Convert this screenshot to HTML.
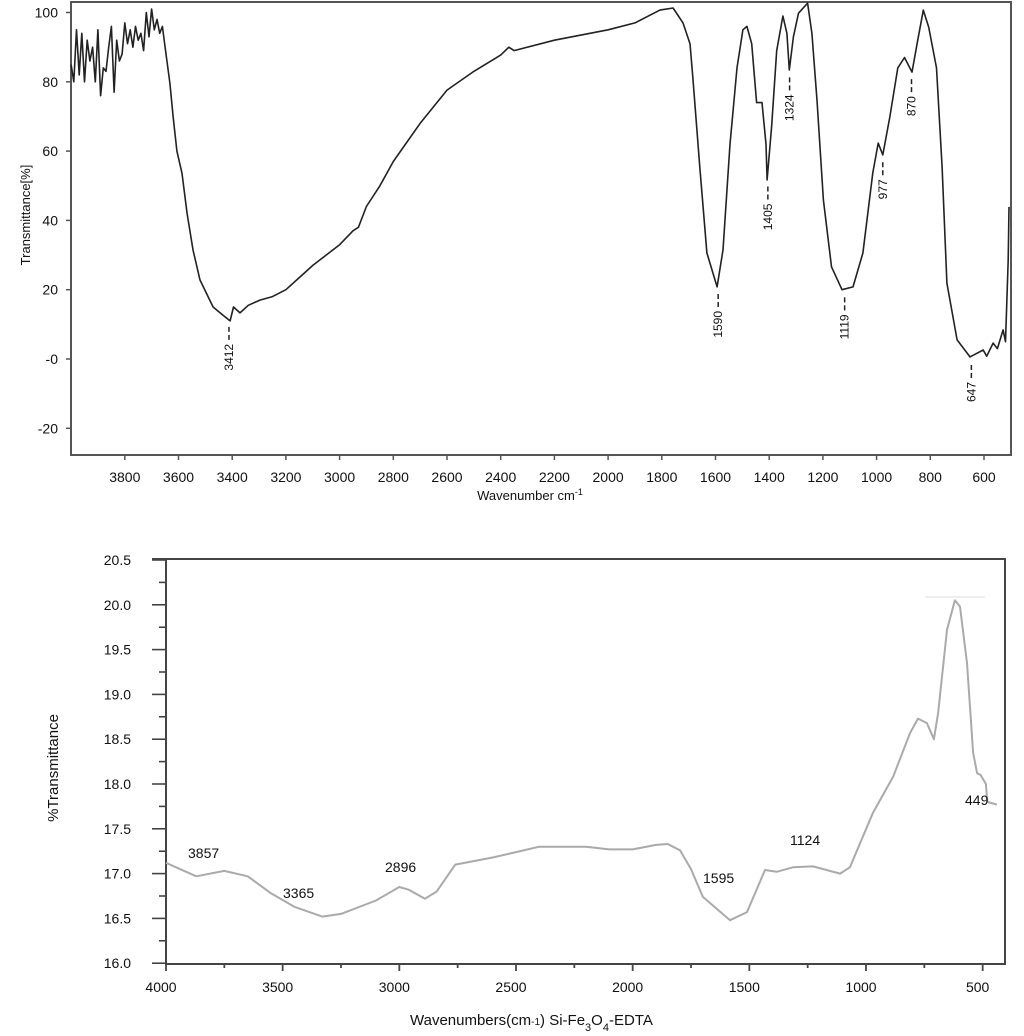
<!DOCTYPE html>
<html><head><meta charset="utf-8"><style>
html,body{margin:0;padding:0;background:#fff;}
svg{display:block;font-family:"Liberation Sans",Arial,sans-serif;}
</style></head><body>
<svg id="c" width="1024" height="1036" viewBox="0 0 1024 1036">
</svg>
<script>
// ---- Top chart data ----
const topNoiseW = [4000,3990,3980,3970,3960,3950,3940,3930,3920,3910,3900,3890,3880,3870,3860,3850,3840,3830,3820,3810,3800,3790,3780,3770,3760,3750,3740,3730,3720,3710,3700,3690,3680,3670,3660,3650];
const topNoiseT = [85,80,95,82,94,80,92,86,90,80,95,76,84,83,90,96,77,92,86,88,97,91,95,90,96,92,94,89,100,93,101,95,98,94,96,90];
const topW = [3632,3620,3606,3587,3568,3546,3520,3471,3440,3408,3395,3371,3340,3297,3250,3200,3147,3100,3000,2950,2930,2900,2850,2800,2700,2600,2500,2400,2370,2350,2200,2000,1900,1807,1758,1721,1695,1684,1658,1632,1594,1572,1546,1520,1498,1483,1465,1447,1427,1412,1408,1391,1372,1349,1334,1325,1310,1291,1257,1241,1222,1198,1168,1129,1088,1051,1014,994,977,951,921,896,868,849,826,806,777,756,738,700,652,630,603,590,566,550,529,520,514,510,507];
const topT = [79.6,70,60,53.6,42,31.5,22.8,15,13,11,15,13.3,15.5,17,18,20,23.7,27,33,37,38,44,50,57,68,77.6,83,87.7,90,89,92,95,97,100.7,101.3,97,91,81,55,30.6,20.8,31.5,62,84,95,96,91,74,74,62,51.7,67,89,99,94,83.4,93,99.8,102.7,94,74.7,45.9,26.6,20,20.8,30.6,53.7,62.3,58.9,69.8,84,87,82.8,91,100.7,95.8,84,55.4,21.9,5.5,0.6,1.5,2.6,0.8,4.6,3,8.4,5,19,28.6,43.9];
const topYTicks = [100,80,60,40,20,0,-20];
const topYLabels = ["100","80","60","40","20","-0","-20"];
const topXTicks = [3800,3600,3400,3200,3000,2800,2600,2400,2200,2000,1800,1600,1400,1200,1000,800,600];
const topPeaksW = [3412,1590,1405,1324,1119,977,870,647];
const topPeaksT = [11,20.5,51.5,83,19.5,58.5,82.5,0];
// ---- Bottom chart data ----
const botW = [4000,3870,3750,3650,3550,3450,3330,3250,3100,3000,2960,2890,2840,2760,2600,2500,2400,2200,2100,2000,1900,1850,1797,1750,1699,1583,1510,1433,1383,1313,1227,1111,1069,970,884,811,777,739,709,691,653,619,597,567,541,524,509,486,480,439];
const botT = [17.12,16.97,17.03,16.97,16.78,16.63,16.52,16.55,16.7,16.85,16.82,16.72,16.8,17.1,17.18,17.24,17.3,17.3,17.27,17.27,17.32,17.33,17.26,17.05,16.74,16.48,16.57,17.04,17.02,17.07,17.08,17.0,17.07,17.68,18.08,18.57,18.73,18.68,18.5,18.79,19.72,20.05,19.98,19.35,18.35,18.12,18.1,18.0,17.8,17.77];
const botYTicks = [16.0,16.5,17.0,17.5,18.0,18.5,19.0,19.5,20.0,20.5];
const botXTicks = [4000,3500,3000,2500,2000,1500,1000,500];
const botLabels = ["3857","3365","2896","1595","1124","449"];

const NS="http://www.w3.org/2000/svg";
const svg=document.getElementById('c');
function mk(tag,attrs,parent){const e=document.createElementNS(NS,tag);for(const k in attrs)e.setAttribute(k,attrs[k]);(parent||svg).appendChild(e);return e;}

// top axes
const tx=w=>984+(600-w)*0.2685;
const ty=v=>359-v*3.465;
const gTop=mk('g',{});


const f1=mk('rect',{x:71,y:2,width:940,height:453,fill:'none',stroke:'#555','stroke-width':2},gTop);


topYTicks.forEach((v,i)=>{
  const t=mk('line',{x1:66,x2:71,y1:ty(v),y2:ty(v),stroke:'#555','stroke-width':1.5},gTop);
  
  
  const l=mk('text',{x:58,y:ty(v)+5,'text-anchor':'end','font-size':14,fill:'#111'},gTop);
  l.textContent=topYLabels[i];
  
  
});
topXTicks.forEach(w=>{
  const t=mk('line',{x1:tx(w),x2:tx(w),y1:455,y2:460,stroke:'#555','stroke-width':1.5},gTop);
  
  
  const l=mk('text',{x:tx(w),y:482,'text-anchor':'middle','font-size':14,fill:'#111'},gTop);
  l.textContent=w;
  
  
});
let d='';
topNoiseW.forEach((w,i)=>{d+=(i?'L':'M')+tx(w).toFixed(1)+' '+ty(topNoiseT[i]).toFixed(1);});
topW.forEach((w,i)=>{d+='L'+tx(w).toFixed(1)+' '+ty(topT[i]).toFixed(1);});
const p1=mk('path',{d:d,fill:'none',stroke:'#222','stroke-width':1.6,'stroke-linejoin':'round'},gTop);


topPeaksW.forEach((w,i)=>{
  const y0=ty(topPeaksT[i])+6;
  const m=mk('line',{x1:tx(w),x2:tx(w),y1:y0,y2:y0+14,stroke:'#222','stroke-width':1.5,'stroke-dasharray':'5 3'},gTop);
  
  
  const cy=y0+17;
  const l=mk('text',{x:0,y:0,'text-anchor':'end','font-size':12,fill:'#111',transform:`translate(${tx(w)+4},${cy}) rotate(-90)`},gTop);
  l.textContent=w;
  
  
});
const yt1=mk('text',{x:0,y:0,'text-anchor':'middle','font-size':13,fill:'#111',transform:'translate(30,215) rotate(-90)'},gTop);
yt1.textContent='Transmittance[%]';


const xt1=mk('text',{x:530,y:500,'text-anchor':'middle','font-size':13,fill:'#111'},gTop);
xt1.innerHTML='Wavenumber cm<tspan dy="-5" font-size="9">-1</tspan>';



// bottom axes
const bx=w=>166+(4000-w)*0.23333;
const by=v=>560+(20.5-v)*89.6;
const gB=mk('g',{});


const f2=mk('path',{d:'M152 559 L1005 559 L1005 964 L166 964 L166 559',fill:'none',stroke:'#444','stroke-width':2},gB);


botYTicks.forEach(v=>{
  const t=mk('line',{x1:152,x2:166,y1:by(v),y2:by(v),stroke:'#444','stroke-width':1.6},gB);
  
  
  if(v<20.5){
    const t2=mk('line',{x1:159,x2:166,y1:by(v+0.25),y2:by(v+0.25),stroke:'#444','stroke-width':1.6},gB);
    
    
  }
  const l=mk('text',{x:131,y:by(v)+5,'text-anchor':'end','font-size':14,fill:'#111'},gB);
  l.textContent=v.toFixed(1);
  
  
});
botXTicks.forEach(w=>{
  const t=mk('line',{x1:bx(w),x2:bx(w),y1:964,y2:971,stroke:'#444','stroke-width':1.8},gB);
  
  
  if(w>500){
    const t2=mk('line',{x1:bx(w-250),x2:bx(w-250),y1:964,y2:968,stroke:'#444','stroke-width':1.8},gB);
    
    
  }
  const l=mk('text',{x:bx(w)-5,y:992,'text-anchor':'middle','font-size':14,fill:'#111'},gB);
  l.textContent=w;
  
  
});
let d2='';
botW.forEach((w,i)=>{d2+=(i?'L':'M')+bx(w).toFixed(1)+' '+by(botT[i]).toFixed(1);});
const p2=mk('path',{d:d2,fill:'none',stroke:'#aaa','stroke-width':2,'stroke-linejoin':'round'},gB);


const hl=mk('line',{x1:925,x2:985,y1:597,y2:597,stroke:'#ddd','stroke-width':1},gB);


const lp=[[188,858],[283,898],[385,872],[703,883],[790,845],[965,805]];
botLabels.forEach((s,i)=>{
  const l=mk('text',{x:lp[i][0],y:lp[i][1],'font-size':14,fill:'#111'},gB);
  l.textContent=s;
  
  
});
const yt2=mk('text',{x:0,y:0,'text-anchor':'middle','font-size':15,fill:'#111',transform:'translate(58,768) rotate(-90)'},gB);
yt2.textContent='%Transmittance';


const xt2=mk('text',{x:410,y:1025,'font-size':15,fill:'#111'},gB);
xt2.innerHTML='Wavenumbers(cm<tspan font-size="10">-1</tspan>) Si-Fe<tspan dy="6" font-size="11">3</tspan><tspan dy="-6">O</tspan><tspan dy="6" font-size="11">4</tspan><tspan dy="-6">-EDTA</tspan>';


</script>
</body></html>
